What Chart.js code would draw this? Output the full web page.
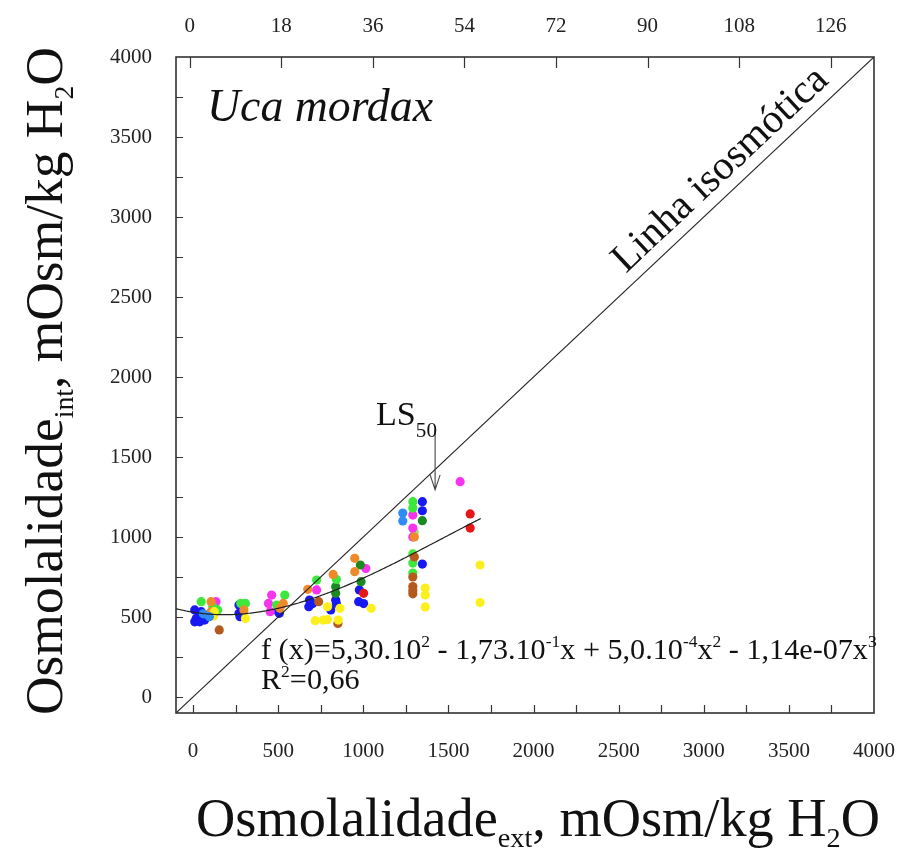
<!DOCTYPE html>
<html>
<head>
<meta charset="utf-8">
<script src="https://cdn.jsdelivr.net/npm/chart.js@4/dist/chart.umd.min.js"></script>
<style>
  html, body { margin: 0; padding: 0; background: #fff; }
</style>
</head>
<body>
<canvas id="c" width="921" height="853"></canvas>
<script>
// Haemolymph osmolality of Uca mordax vs. external osmolality, [x, y] in mOsm/kg H2O
const bluePts = [[10,544],[48,533],[58,502],[19,491],[10,470],[39,470],[68,481],[270,575],[276,502],[270,523],
  [501,533],[507,523],[684,606],[703,584],[680,564],[977,669],[973,596],[1002,584],[838,606],[842,584],[809,544],
  [1347,1221],[1347,1164],[1347,831]];
const greenPts = [[48,596],[116,564],[145,544],[280,585],[308,585],[539,637],[491,575],[726,731],[842,735],
  [1291,1221],[1291,1181],[1291,894],[1291,837],[1291,775]];
const darkGreenPts = [[983,825],[987,721],[838,689],[838,648],[1347,1102]];
const magentaPts = [[135,596],[462,637],[443,585],[453,533],[726,669],[1015,803],[1291,1137],[1291,1056],[1291,1000],[1569,1346]];
const orangePts = [[106,596],[106,533],[299,544],[530,585],[510,554],[674,673],[823,766],[950,867],[950,783],[1300,1000]];
const brownPts = [[154,419],[738,596],[851,460],[1300,875],[1291,750],[1291,690],[1291,665],[1291,645]];
const yellowPts = [[125,533],[121,506],[308,491],[790,564],[863,554],[790,484],[853,481],[718,477],[765,481],
  [1046,554],[1364,681],[1364,638],[1364,563],[1686,825],[1686,590]];
const skyBluePts = [[96,502],[60,520],[1232,1150],[1232,1100]];
const redPts = [[1002,648],[1628,1144],[1628,1056]];
const limePts = [[1300,1031]];

// Cubic fit stated on the chart: f(x) = c0 + c1 x + c2 x^2 + c3 x^3
const fitCoef = [530, -0.173, 5.0e-4, -1.14e-7];
const fitRange = [-100, 1690];
// Isosmotic line y = x across the whole axis range
const isoRange = [-100, 4000];
// LS50 arrow (x, y from, y to)
const ls50Arrow = [1422, 1670, 1295];

// Tick labels
const xTickLabels = [0, 500, 1000, 1500, 2000, 2500, 3000, 3500, 4000];
const yTickLabels = [0, 500, 1000, 1500, 2000, 2500, 3000, 3500, 4000];
const topTickLabels = [0, 18, 36, 54, 72, 90, 108, 126];

const SERIF = "'Liberation Serif', 'DejaVu Serif', serif";

const fitPts = [];
for (let x = fitRange[0]; x <= fitRange[1]; x += 10) {
  fitPts.push({ x, y: fitCoef[0] + fitCoef[1]*x + fitCoef[2]*x*x + fitCoef[3]*x*x*x });
}

function pts(arr) { return arr.map(([x, y]) => ({ x, y })); }
function dots(arr, color) {
  return { type: 'scatter', data: pts(arr), backgroundColor: color, borderColor: color,
           borderWidth: 0, pointRadius: 4.6, pointHoverRadius: 4.6, order: 2 };
}

// Rich text helpers (sub/superscripts); r = relative size, d = relative baseline shift
function partsWidth(ctx, parts, size, style) {
  let w = 0;
  for (const p of parts) {
    const s = size * (p.r || 1);
    ctx.font = `${style} ${s}px ${SERIF}`;
    w += ctx.measureText(p.t).width;
  }
  return w;
}
function drawParts(ctx, parts, x, y, size, style) {
  for (const p of parts) {
    const s = size * (p.r || 1);
    ctx.font = `${style} ${s}px ${SERIF}`;
    ctx.fillText(p.t, x, y + size * (p.d || 0));
    x += ctx.measureText(p.t).width;
  }
}
function fitSize(ctx, parts, width, style) {
  return 100 * width / partsWidth(ctx, parts, 100, style);
}

const sub = (t) => ({ t, r: 0.52, d: 0.2 });
const sup = (t) => ({ t, r: 0.58, d: -0.4 });

const yTitle = [{t:'Osmolalidade'}, sub('int'), {t:', mOsm/kg H'}, sub('2'), {t:'O'}];
const xTitle = [{t:'Osmolalidade'}, sub('ext'), {t:', mOsm/kg H'}, sub('2'), {t:'O'}];
const formula = [{t:'f (x)=5,30.10'}, sup('2'), {t:' - 1,73.10'}, sup('-1'), {t:'x + 5,0.10'},
  sup('-4'), {t:'x'}, sup('2'), {t:' - 1,14e-07x'}, sup('3')];
const rSquared = [{t:'R'}, sup('2'), {t:'=0,66'}];
const ls50 = [{t:'LS'}, { t: '50', r: 0.62, d: 0.36 }];
const species = [{t:'Uca mordax'}];
const isoLabel = [{t:'Linha isosmótica'}];

const decor = {
  id: 'decor',
  afterDraw(chart) {
    const { ctx, chartArea: a, scales } = chart;
    const sx = scales.x, sy = scales.y, st = scales.xTop;
    ctx.save();
    // frame
    ctx.strokeStyle = '#333';
    ctx.lineWidth = 1.6;
    ctx.strokeRect(a.left, a.top, a.right - a.left, a.bottom - a.top);
    // inward tick marks
    ctx.lineWidth = 1.2;
    ctx.beginPath();
    sy.ticks.forEach(t => {
      if (t.value < 0 || t.value >= 4000) return;
      const p = Math.round(sy.getPixelForValue(t.value)) + 0.5;
      ctx.moveTo(a.left, p); ctx.lineTo(a.left + 7, p);
    });
    sx.ticks.forEach(t => {
      if (t.value < 0 || t.value >= 4000) return;
      const p = Math.round(sx.getPixelForValue(t.value)) + 0.5;
      ctx.moveTo(p, a.bottom); ctx.lineTo(p, a.bottom - 8);
    });
    st.ticks.forEach(t => {
      if (!topTickLabels.includes(t.value)) return;
      const p = Math.round(st.getPixelForValue(t.value)) + 0.5;
      ctx.moveTo(p, a.top); ctx.lineTo(p, a.top + 11);
    });
    ctx.stroke();

    // LS50 arrow
    const ax = sx.getPixelForValue(ls50Arrow[0]);
    const ay0 = sy.getPixelForValue(ls50Arrow[1]);
    const ay1 = sy.getPixelForValue(ls50Arrow[2]);
    ctx.strokeStyle = '#444';
    ctx.lineWidth = 1.1;
    ctx.beginPath();
    ctx.moveTo(ax, ay0); ctx.lineTo(ax, ay1);
    ctx.moveTo(ax - 5, ay1 - 15); ctx.lineTo(ax, ay1); ctx.lineTo(ax + 5, ay1 - 15);
    ctx.stroke();

    ctx.fillStyle = '#111';
    ctx.textBaseline = 'alphabetic';
    ctx.textAlign = 'left';

    // LS50 label
    let s = fitSize(ctx, ls50, 61, 'normal');
    drawParts(ctx, ls50, 376, 425, s, 'normal');

    // species name
    s = fitSize(ctx, species, 226, 'italic');
    drawParts(ctx, species, 207, 121, s, 'italic');

    // fitted equation and R2
    s = fitSize(ctx, formula, 616, 'normal');
    drawParts(ctx, formula, 261, 659, s, 'normal');
    drawParts(ctx, rSquared, 261, 689, s, 'normal');

    // isosmotic line label, along the line
    const px0 = sx.getPixelForValue(isoRange[0]), py0 = sy.getPixelForValue(isoRange[0]);
    const px1 = sx.getPixelForValue(isoRange[1]), py1 = sy.getPixelForValue(isoRange[1]);
    const ang = Math.atan2(py1 - py0, px1 - px0);
    const cx = sx.getPixelForValue(3190), cy = sy.getPixelForValue(3190);
    s = fitSize(ctx, isoLabel, 280, 'normal');
    ctx.save();
    ctx.translate(cx, cy);
    ctx.rotate(ang);
    const iw = partsWidth(ctx, isoLabel, s, 'normal');
    drawParts(ctx, isoLabel, -iw / 2, -12, s, 'normal');
    ctx.restore();

    // axis titles
    s = fitSize(ctx, xTitle, 684, 'normal');
    drawParts(ctx, xTitle, 196, 836, s, 'normal');

    s = fitSize(ctx, yTitle, 668, 'normal');
    ctx.save();
    ctx.translate(62, 715);
    ctx.rotate(-Math.PI / 2);
    drawParts(ctx, yTitle, 0, 0, s, 'normal');
    ctx.restore();

    ctx.restore();
  }
};

const tickFont = { family: SERIF, size: 21 };

new Chart(document.getElementById('c'), {
  type: 'scatter',
  data: {
    datasets: [
      { type: 'line', data: isoRange.map(v => ({ x: v, y: v })), borderColor: '#222', borderWidth: 1.1,
        pointRadius: 0, fill: false, order: 0 },
      { type: 'line', data: fitPts, borderColor: '#222', borderWidth: 1.2, pointRadius: 0,
        fill: false, tension: 0, order: 0 },
      dots(skyBluePts, '#2f8cf4'),
      dots(yellowPts, '#fbf01e'),
      dots(brownPts, '#b45a1c'),
      dots(orangePts, '#ef8a2a'),
      dots(greenPts, '#3be83b'),
      dots(darkGreenPts, '#1c8a22'),
      dots(magentaPts, '#f733f0'),
      dots(redPts, '#e81616'),
      dots(limePts, '#9ee47a'),
      dots(bluePts, '#1818f2')
    ]
  },
  options: {
    responsive: false,
    animation: false,
    layout: { padding: { left: 0, right: 37, top: 0, bottom: 0 } },
    plugins: { legend: { display: false }, tooltip: { enabled: false } },
    scales: {
      x: {
        type: 'linear', position: 'bottom', min: -100, max: 4000,
        grid: { display: false, drawTicks: false }, border: { display: false },
        ticks: { stepSize: 250, includeBounds: false, autoSkip: false, maxRotation: 0, padding: 26,
                 color: '#222', font: tickFont,
                 callback: v => xTickLabels.includes(v) ? String(v) : '' },
        afterFit(scale) { scale.height = 140; }
      },
      y: {
        type: 'linear', position: 'left', min: -100, max: 4000,
        grid: { display: false, drawTicks: false }, border: { display: false },
        ticks: { stepSize: 250, includeBounds: false, autoSkip: false, padding: 24, color: '#222', font: tickFont,
                 callback: v => yTickLabels.includes(v) ? String(v) : '' },
        afterFit(scale) { scale.width = 176; }
      },
      xTop: {
        type: 'linear', position: 'top', min: -2.7, max: 134.5,
        grid: { display: false, drawTicks: false }, border: { display: false },
        ticks: { stepSize: 18, includeBounds: false, autoSkip: false, maxRotation: 0, padding: 18,
                 color: '#222', font: tickFont,
                 callback: v => topTickLabels.includes(v) ? String(v) : '' },
        afterFit(scale) { scale.height = 57; }
      }
    }
  },
  plugins: [decor]
});
</script>
</body>
</html>
